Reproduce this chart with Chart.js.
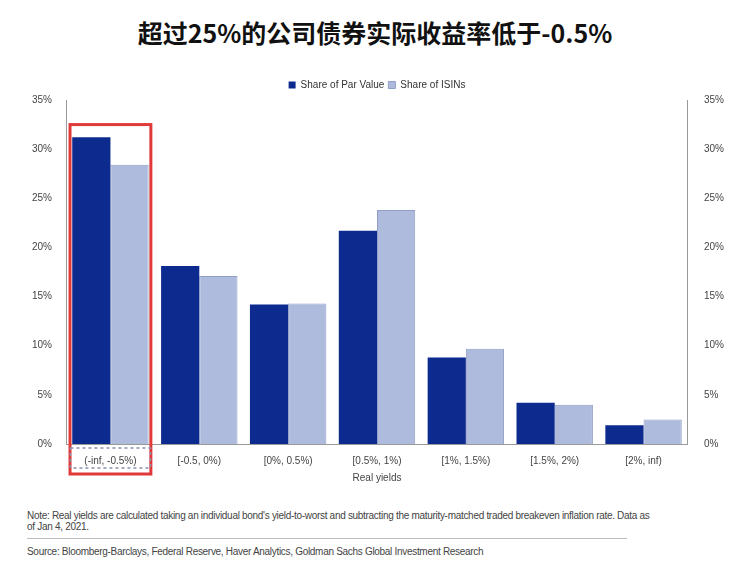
<!DOCTYPE html>
<html>
<head>
<meta charset="utf-8">
<script src="https://cdn.jsdelivr.net/npm/chart.js@4"></script>
<style>
body { margin: 0; width: 750px; height: 572px; background: #fff; font-family: "Liberation Sans", Arial, sans-serif; position: relative; overflow: hidden; }
#title { position: absolute; top: 14px; left: 0; width: 750px; text-align: center; font-family: "Noto Sans CJK SC", sans-serif; font-weight: bold; font-size: 25px; color: #111; }
#wrap { position: absolute; top: 76px; left: 0; width: 750px; height: 420px; }
#note { position: absolute; top: 510px; left: 27px; width: 700px; font-size: 10px; color: #444; line-height: 11px; letter-spacing: -0.3px; }
#rule { position: absolute; top: 538px; left: 27px; width: 600px; border-top: 1px solid #bbb; }
#src { position: absolute; top: 546px; left: 27px; font-size: 10px; color: #444; letter-spacing: -0.3px; }
</style>
</head>
<body>
<div id="title">超过25%的公司债券实际收益率低于-0.5%</div>
<div id="wrap"><canvas id="chart"></canvas></div>
<div id="note">Note: Real yields are calculated taking an individual bond's yield-to-worst and subtracting the maturity-matched traded breakeven inflation rate. Data as<br>of Jan 4, 2021.</div>
<div id="rule"></div>
<div id="src">Source: Bloomberg-Barclays, Federal Reserve, Haver Analytics, Goldman Sachs Global Investment Research</div>
<script>
const categories = ['(-inf, -0.5%)', '[-0.5, 0%)', '[0%, 0.5%)', '[0.5%, 1%)', '[1%, 1.5%)', '[1.5%, 2%)', '[2%, inf)'];
const parValue = [31.2, 18.1, 14.2, 21.7, 8.8, 4.2, 1.9];
const isins = [28.4, 17.1, 14.3, 23.8, 9.7, 4.0, 2.5];

const highlight = {
    id: 'highlight',
    afterDraw(chart) {
        const ctx = chart.ctx;
        const x = chart.scales.x;
        const y = chart.scales.y;
        const half = (x.getPixelForValue(1) - x.getPixelForValue(0)) / 2;
        const cx = x.getPixelForValue(0);
        ctx.save();
        ctx.strokeStyle = '#e0393a';
        ctx.lineWidth = 3;
        const top = y.getPixelForValue(32.5);
        ctx.strokeRect(cx - half + 4, top, 2 * half - 8, y.bottom + 30 - top);
        ctx.strokeStyle = '#8a8fb0';
        ctx.lineWidth = 1.5;
        ctx.setLineDash([3, 3]);
        ctx.strokeRect(cx - 40, y.bottom + 4, 80, 20);
        ctx.restore();
    }
};

new Chart(document.getElementById('chart'), {
    type: 'bar',
    data: {
        labels: categories,
        datasets: [{
            label: 'Share of Par Value',
            data: parValue,
            backgroundColor: '#0d2b8e',
            yAxisID: 'y'
        }, {
            label: 'Share of ISINs',
            data: isins,
            backgroundColor: '#aebbdc',
            borderColor: '#8f9fc8',
            borderWidth: 1,
            yAxisID: 'y'
        }]
    },
    options: {
        responsive: true,
        maintainAspectRatio: false,
        animation: false,
        layout: { padding: { left: 22, right: 18, top: 0, bottom: 10 } },
        datasets: { bar: { categoryPercentage: 0.86, barPercentage: 1 } },
        plugins: {
            legend: {
                position: 'top',
                align: 'center',
                labels: { boxWidth: 7, boxHeight: 7, font: { size: 10 }, color: '#333', padding: 4 }
            },
            tooltip: { enabled: false }
        },
        scales: {
            x: {
                grid: { display: false },
                border: { color: '#999' },
                ticks: { color: '#444', font: { size: 10 } },
                title: { display: true, text: 'Real yields', color: '#444', font: { size: 10 }, padding: 2 }
            },
            y: {
                min: 0, max: 35,
                ticks: { stepSize: 5, callback: v => v + '%', color: '#444', font: { size: 10 }, padding: 10 },
                grid: { display: false, drawTicks: true, tickLength: 4 },
                border: { color: '#999' }
            },
            y2: {
                position: 'right',
                min: 0, max: 35,
                ticks: { stepSize: 5, callback: v => v + '%', color: '#444', font: { size: 10 }, padding: 8 },
                grid: { display: false },
                border: { color: '#999' }
            }
        }
    },
    plugins: [highlight]
});
</script>
</body>
</html>
